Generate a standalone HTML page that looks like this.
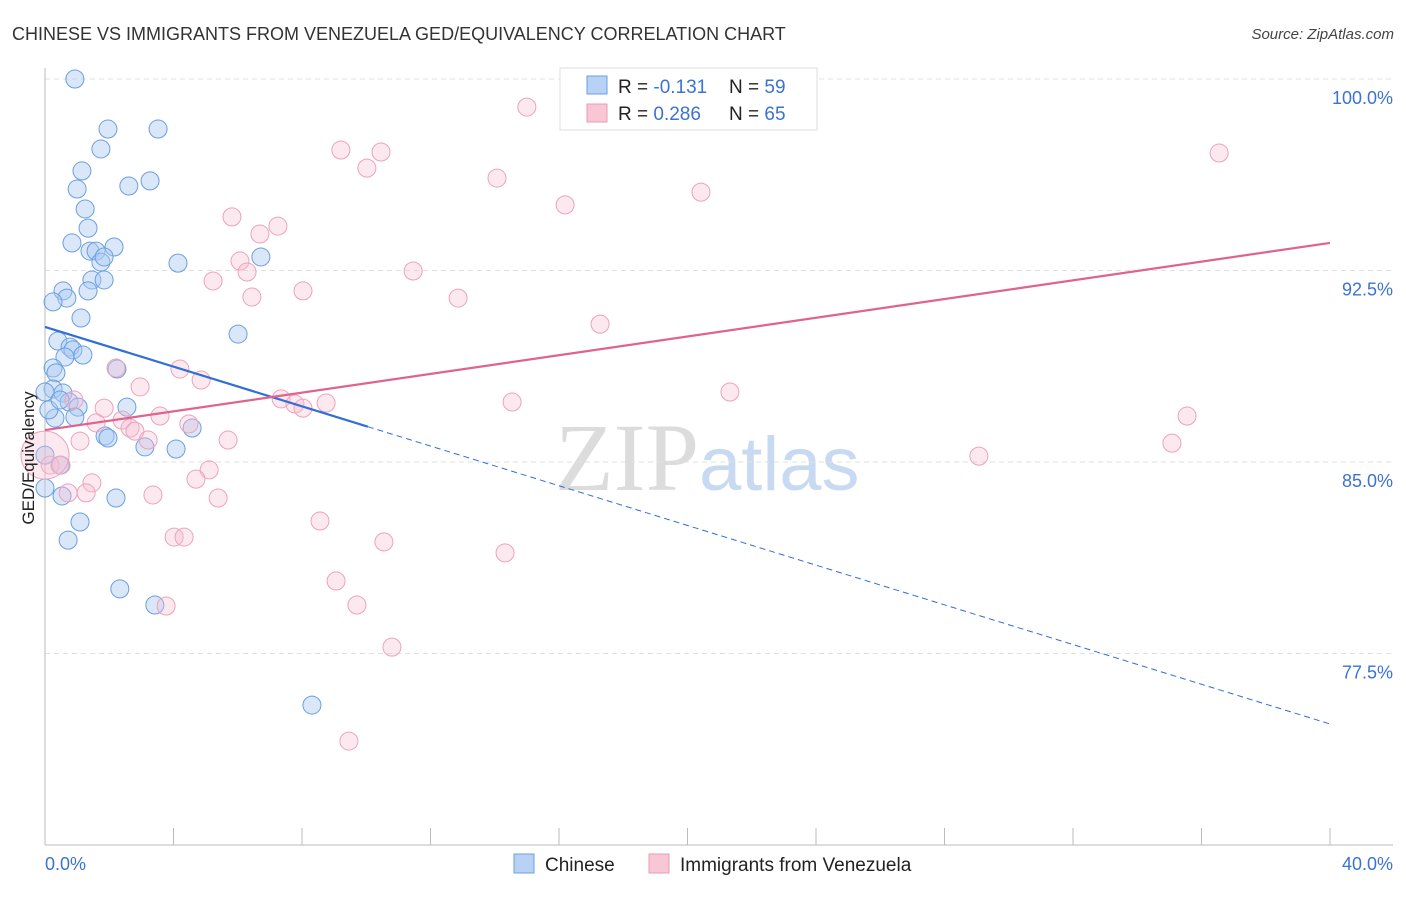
<!DOCTYPE html>
<html><head><meta charset="utf-8"><style>
body{margin:0;background:#fff;font-family:"Liberation Sans",sans-serif}
</style></head><body>
<svg id="chart" width="1406" height="892" xmlns="http://www.w3.org/2000/svg" font-family="Liberation Sans, sans-serif">
<text x="12" y="40" font-size="18" fill="#333">CHINESE VS IMMIGRANTS FROM VENEZUELA GED/EQUIVALENCY CORRELATION CHART</text>
<text x="1394" y="39" font-size="15" fill="#444" font-style="italic" text-anchor="end">Source: ZipAtlas.com</text>
<text x="555" y="490" font-size="96" fill="#dcdcdc" font-family="Liberation Serif, serif">ZIP<tspan fill="#c8daf2" font-family="Liberation Sans, sans-serif" font-size="76">atlas</tspan></text>
<g id="grid"></g><g id="axes"></g><g id="marks"></g><g id="lines"></g>
<text transform="translate(34,458) rotate(-90)" font-size="17" fill="#222" text-anchor="middle">GED/Equivalency</text>
<g>
<rect x="560" y="68" width="257" height="62" fill="#fff" stroke="#ddd"/>
<rect x="587" y="76" width="20" height="18" fill="#b7d2f5" stroke="#6a9fe0"/>
<text x="618" y="93" font-size="19" fill="#222">R = <tspan fill="#3b73d1">-0.131</tspan></text>
<text x="729" y="93" font-size="19" fill="#222">N = <tspan fill="#3b73d1">59</tspan></text>
<rect x="587" y="104" width="20" height="18" fill="#f9c6d5" stroke="#e99ab4"/>
<text x="618" y="120" font-size="19" fill="#222">R = <tspan fill="#3b73d1">0.286</tspan></text>
<text x="729" y="120" font-size="19" fill="#222">N = <tspan fill="#3b73d1">65</tspan></text>
</g>
<g>
<rect x="514" y="854" width="20" height="19" fill="#b7d2f5" stroke="#6a9fe0"/>
<text x="545" y="871" font-size="19" fill="#222">Chinese</text>
<rect x="649" y="854" width="20" height="19" fill="#f9c6d5" stroke="#e99ab4"/>
<text x="680" y="871" font-size="19" fill="#222">Immigrants from Venezuela</text>
</g>
</svg>
<script>
const xTickLabels=["0.0%","40.0%"];
const yTicks=[100,92.5,85,77.5];
const yTickLabels=["100.0%","92.5%","85.0%","77.5%"];
const chineseX=[0.93,1.96,3.52,1.74,1.15,3.27,1.00,2.61,1.25,1.34,0.84,1.40,1.59,2.15,1.74,1.84,4.14,6.72,1.46,1.84,0.56,1.34,0.68,0.25,1.12,6.01,0.40,0.78,0.87,1.18,0.62,0.25,0.34,0.25,0.56,0.0,2.24,0.75,1.03,2.55,0.31,0.93,0.12,4.58,1.87,1.96,3.11,4.08,0.47,0.0,0.53,2.21,1.09,0.72,2.33,3.42,8.31,0.0,0.47];
const chineseY=[100.0,98.04,98.04,97.26,96.40,96.01,95.69,95.81,94.91,94.16,93.58,93.26,93.26,93.42,92.83,93.03,92.79,93.03,92.13,92.13,91.70,91.70,91.42,91.27,90.64,90.01,89.74,89.50,89.39,89.19,89.11,88.68,88.49,87.86,87.70,87.74,88.64,87.35,87.15,87.15,86.72,86.76,87.04,86.33,86.02,85.94,85.59,85.51,84.88,83.98,83.67,83.59,82.65,81.94,80.03,79.40,75.48,85.27,87.43];
const venX=[21.98,15.00,9.21,10.46,10.02,36.55,14.07,20.42,16.19,5.82,7.25,6.69,6.07,6.29,5.23,11.46,6.44,8.03,12.86,17.28,2.21,4.20,2.96,4.86,21.32,7.35,7.78,8.03,8.75,14.54,35.55,0.90,1.84,3.58,4.48,2.40,1.59,2.65,2.80,3.21,1.09,5.70,35.08,29.07,0.16,0.50,5.11,4.70,1.46,0.72,1.28,3.36,5.39,8.56,4.02,4.33,10.55,14.32,9.06,9.71,3.77,10.80,9.46,0.0];
const venY=[99.96,98.90,97.22,97.14,96.51,97.10,96.12,95.57,95.07,94.60,94.24,93.93,92.87,92.44,92.09,92.48,91.46,91.70,91.42,90.40,88.68,88.64,87.94,88.21,87.74,87.47,87.27,87.11,87.31,87.35,86.80,87.43,87.11,86.80,86.49,86.64,86.53,86.33,86.21,85.86,85.82,85.86,85.74,85.23,84.88,84.88,84.69,84.33,84.18,83.79,83.79,83.71,83.59,82.69,82.06,82.06,81.87,81.44,80.34,79.40,79.36,77.75,74.07,85.27];
const chineseTrend=[90.29,74.74];
const venTrend=[86.25,93.58];
const NS="http://www.w3.org/2000/svg";
const X=v=>45+v/40*1285, Y=v=>79+(100-v)/7.5*191.5;
function mk(p,t,a){const e=document.createElementNS(NS,t);for(const k in a)e.setAttribute(k,a[k]);document.getElementById(p).appendChild(e);return e;}
yTicks.forEach((t,i)=>{
 const g=mk('grid','line',{x1:45,x2:1393,y1:Y(t),y2:Y(t),stroke:'#e0e0e0','stroke-dasharray':'5,4'});
 
 
 const l=mk('axes','text',{x:1393,y:Y(t)+25,'font-size':18,fill:'#3b73d1','text-anchor':'end'});
 
 
 l.textContent=yTickLabels[i];
});
const ax=mk('axes','line',{x1:45,x2:45,y1:68,y2:845,stroke:'#bbb'});


const bx=mk('axes','line',{x1:45,x2:1393,y1:845,y2:845,stroke:'#bbb'});


for(let i=0;i<=10;i++){const t=mk('axes','line',{x1:X(i*4),x2:X(i*4),y1:828,y2:845,stroke:'#bbb'});
 
 }
[[0,'start',45],[40,'end',1393]].forEach(([v,a,x],i)=>{const t=mk('axes','text',{x:x,y:870,'font-size':18,fill:'#3b73d1','text-anchor':a});
 
 
 t.textContent=xTickLabels[i];});
chineseX.forEach((v,i)=>{const c=mk('marks','circle',{cx:X(v),cy:Y(chineseY[i]),r:9,fill:'rgba(170,202,242,0.45)',stroke:'#6a9fe0','stroke-width':1});
 
 });
venX.forEach((v,i)=>{const big=i===venX.length-1;const c=mk('marks','circle',{cx:X(v),cy:Y(venY[i]),r:big?24:9,fill:'rgba(247,190,208,0.35)',stroke:'#eba3bb','stroke-width':1});
 
 });
const cs=10.05, cy=v=>chineseTrend[0]+(chineseTrend[1]-chineseTrend[0])*v/40;
const l1=mk('lines','line',{x1:X(0),y1:Y(cy(0)),x2:X(cs),y2:Y(cy(cs)),stroke:'#2f6fd6','stroke-width':2.2});


const l2=mk('lines','line',{x1:X(cs),y1:Y(cy(cs)),x2:X(40),y2:Y(cy(40)),stroke:'#2f6fd6','stroke-width':1,'stroke-dasharray':'6,4'});


const l3=mk('lines','line',{x1:X(0),y1:Y(venTrend[0]),x2:X(40),y2:Y(venTrend[1]),stroke:'#e0628e','stroke-width':2.2});


</script>
</body></html>
